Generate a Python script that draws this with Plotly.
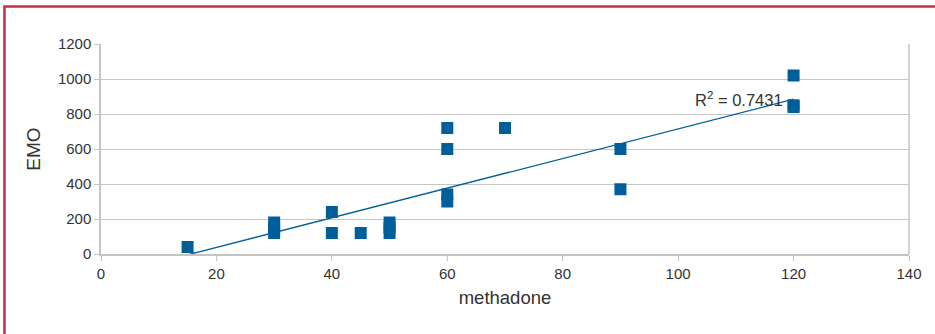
import numpy as np
import plotly.graph_objects as go

methadone = [15, 30, 30, 30, 40, 40, 45, 50, 50, 50, 60, 60, 60, 60, 70, 90, 90, 120, 120, 120]
emo = [40, 120, 150, 180, 240, 120, 120, 120, 150, 180, 720, 600, 340, 300, 720, 600, 370, 1020, 850, 840]
x_ticks = [0, 20, 40, 60, 80, 100, 120, 140]
y_ticks = [0, 200, 400, 600, 800, 1000, 1200]
r2_label = "R<sup>2</sup> = 0.7431"

blue = "#005f9b"
grey = "#c4c4c4"
txt = "#333333"
font = "Liberation Sans, Arial, sans-serif"

slope, intercept = np.polyfit(methadone, emo, 1)
fx = [min(methadone), max(methadone)]
fy = [slope * v + intercept for v in fx]

fig = go.Figure()
fig.add_trace(go.Scatter(x=fx, y=fy, mode="lines", line=dict(color=blue, width=1.3),
                         hoverinfo="skip", showlegend=False))
fig.add_trace(go.Scatter(x=methadone, y=emo, mode="markers",
                         marker=dict(symbol="square", size=12, color=blue),
                         showlegend=False))

fig.add_annotation(x=118.6, y=888, xref="x", yref="y", text=r2_label, showarrow=False,
                   xanchor="right", yanchor="middle", font=dict(size=16.5, color=txt, family=font))

fig.add_shape(type="rect", xref="paper", yref="paper", x0=-0.1195, x1=1.2, y0=-0.6, y1=1.178,
              line=dict(color="#c4304c", width=2.5), layer="above")

fig.update_xaxes(range=[0, 140], tickvals=x_ticks, showgrid=False, showline=True,
                 linecolor=grey, linewidth=1.5, ticks="outside", ticklen=5, tickcolor=grey,
                 mirror=False, zeroline=False,
                 tickfont=dict(size=15, color=txt, family=font),
                 title=dict(text="methadone", font=dict(size=18.5, color=txt, family=font), standoff=10))
fig.update_yaxes(range=[0, 1200], tickvals=y_ticks, showgrid=True, gridcolor=grey, gridwidth=1,
                 showline=True, linecolor=grey, linewidth=1.5, ticks="outside", ticklen=5,
                 tickcolor=grey, zeroline=False,
                 tickfont=dict(size=15, color=txt, family=font),
                 title=dict(text="EMO", font=dict(size=19, color=txt, family=font), standoff=12))

fig.add_shape(type="line", xref="paper", yref="paper", x0=1, x1=1, y0=0, y1=1,
              line=dict(color=grey, width=1.5), layer="below")

fig.update_layout(width=935, height=334, margin=dict(l=101, r=26, t=44, b=80),
                  plot_bgcolor="white", paper_bgcolor="white")

fig.write_html("out.html", config={"displayModeBar": False},
               post_script="document.body.style.margin='0';document.body.style.padding='0';")
